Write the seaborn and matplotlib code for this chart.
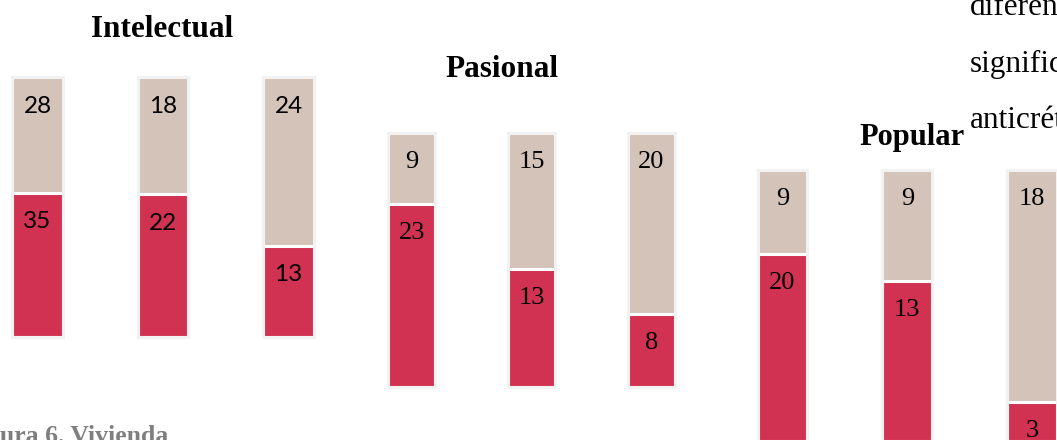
import numpy as np
import pandas as pd
import seaborn as sns
import matplotlib
matplotlib.use("Agg")
import matplotlib.pyplot as plt
from matplotlib.transforms import offset_copy

# ---- data ----
groups = ["Intelectual", "Pasional", "Popular"]
bars = ["1", "2", "3"]
top_values = {            # beige (upper) segments
    "Intelectual": [28, 18, 24],
    "Pasional": [9, 15, 20],
    "Popular": [9, 9, 18],
}
bottom_values = {         # red (lower) segments
    "Intelectual": [35, 22, 13],
    "Pasional": [23, 13, 8],
    "Popular": [20, 13, 3],
}
side_text = ["diferen", "signific", "anticrét"]
caption = "Figura 6. Vivienda"

# ---- style ----
RED = "#D23251"
BEIGE = "#D3C3B8"
BORDER = "#F2F2F2"
W, H = 1057, 440
sns.set_style("white")
plt.rcParams["font.family"] = ["Liberation Serif", "DejaVu Serif"]

fig = plt.figure(figsize=(W / 100, H / 100), dpi=100)

# layout per panel (pixels): left, right, top, bottom of axes; bar width in category units
layout = {
    "Intelectual": dict(l=-25.25, r=351.25, t=77.4, b=336.6, w=0.40,
                        font=dict(family="Lato", size=17.5),
                        title=dict(x=162.5, y=36.7, size=22.5)),
    "Pasional": dict(l=351.8, r=711.2, t=132.9, b=387.1, w=0.392,
                     font=dict(family="Liberation Serif", size=19),
                     title=dict(x=502, y=76.7, size=22.5)),
    "Popular": dict(l=720.1, r=1094.5, t=170.3, b=441.1, w=0.40,
                    font=dict(family="Liberation Serif", size=19),
                    title=dict(x=912.5, y=145, size=22)),
}
LW = 2.2  # points (~3 px)

for g in groups:
    L = layout[g]
    ax = fig.add_axes([L["l"] / W, 1 - L["b"] / H, (L["r"] - L["l"]) / W, (L["b"] - L["t"]) / H])
    top = np.array(top_values[g], dtype=float)
    bot = np.array(bottom_values[g], dtype=float)
    df = pd.DataFrame({"bar": bars, "total": 1.0, "share": bot / (top + bot)})

    sns.barplot(data=df, x="bar", y="total", color=BEIGE, saturation=1, width=L["w"],
                edgecolor="white", linewidth=LW, errorbar=None, ax=ax)
    sns.barplot(data=df, x="bar", y="share", color=RED, saturation=1, width=L["w"],
                edgecolor="white", linewidth=LW, errorbar=None, ax=ax)
    sns.barplot(data=df, x="bar", y="total", color=BORDER, fill=False, saturation=1,
                width=L["w"], linewidth=LW, errorbar=None, ax=ax)
    for p in ax.patches:
        p.set_clip_on(False)

    ax.set_xlim(-0.5, 2.5)
    ax.set_ylim(0, 1)
    ax.axis("off")

    tr = offset_copy(ax.transData, fig=fig, y=-29, units="dots")
    for i in range(len(bars)):
        ax.text(i, 1.0, f"{int(top[i])}", transform=tr, ha="center", va="center",
                color="black", clip_on=False, **L["font"])
        ax.text(i, df["share"][i], f"{int(bot[i])}", transform=tr, ha="center", va="center",
                color="black", clip_on=False, **L["font"])

    T = L["title"]
    fig.text(T["x"] / W, 1 - T["y"] / H, g, ha="center", va="baseline",
             fontsize=T["size"], fontweight="bold", family="Liberation Serif", color="black")

# running text on the right (cut by the page edge, as in the reference)
for s, yb in zip(side_text, [15, 71.7, 128]):
    fig.text(970 / W, 1 - yb / H, s, ha="left", va="baseline", fontsize=22.5,
             family="Liberation Serif", color="black")

# caption bottom-left (cut by the page edge, as in the reference)
fig.text(168 / W, 1 - 443 / H, caption, ha="right", va="baseline", fontsize=18.5,
         fontweight="bold", family="Liberation Serif", color="#7F7F7F")

fig.savefig("out.png", dpi=100)
